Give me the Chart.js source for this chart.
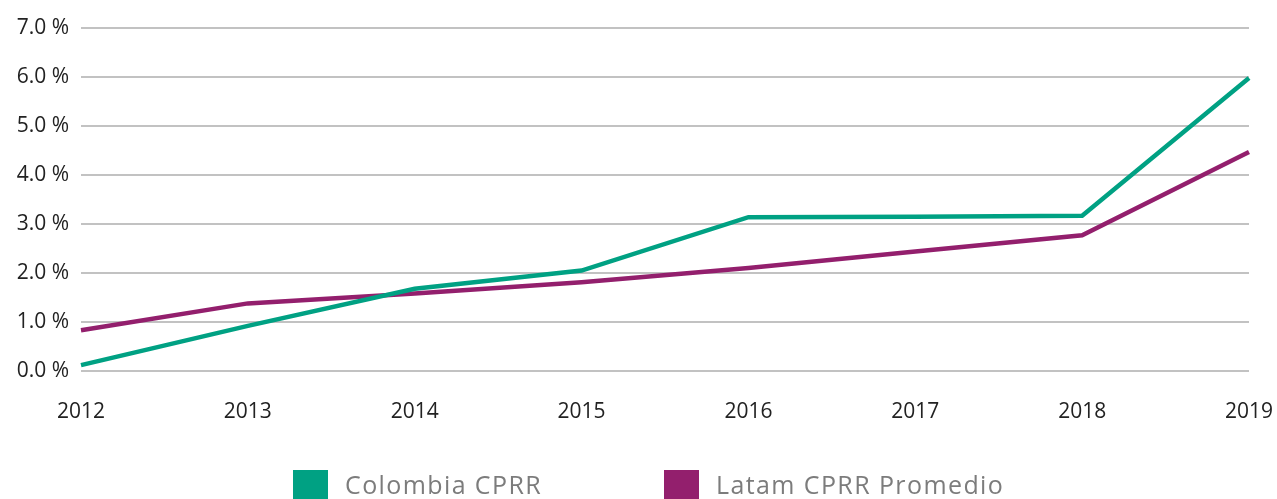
<!DOCTYPE html>
<html>
<head>
<meta charset="utf-8">
<script src="https://cdn.jsdelivr.net/npm/chart.js@4"></script>
<style>
  html, body { margin: 0; padding: 0; background: #fff; }
  #wrap { position: relative; width: 1277px; height: 499px; overflow: hidden; }
  #legend { position: absolute; left: 293px; top: 470px; display: flex; }
  .item { display: flex; align-items: center; width: 371px; }
  .swatch { width: 35px; height: 29px; margin-right: 17px; }
  .label { font-family: "Open Sans", sans-serif; font-size: 25px; letter-spacing: 1.4px; color: #7c7c7c; line-height: 29px; }
</style>
</head>
<body>
<div id="wrap">
  <canvas id="chart" width="1277" height="499"></canvas>
  <div id="legend"></div>
</div>
<script>
const years = ['2012', '2013', '2014', '2015', '2016', '2017', '2018', '2019'];
const colombia = [0.12, 0.92, 1.68, 2.05, 3.14, 3.15, 3.17, 5.98];
const latam = [0.83, 1.38, 1.58, 1.81, 2.1, 2.44, 2.77, 4.47];
const seriesNames = ['Colombia CPRR', 'Latam CPRR Promedio'];
const seriesColors = ['#00a183', '#931f6d'];

// legend lives in the page, built from the chart's own legend items
const htmlLegend = {
    id: 'htmlLegend',
    afterUpdate(chart) {
        const box = document.getElementById('legend');
        box.innerHTML = '';
        chart.legend.legendItems.forEach(item => {
            const el = document.createElement('div');
            el.className = 'item';
            const sw = document.createElement('span');
            sw.className = 'swatch';
            sw.style.background = item.strokeStyle;
            const txt = document.createElement('span');
            txt.className = 'label';
            txt.textContent = item.text;
            el.appendChild(sw);
            el.appendChild(txt);
            box.appendChild(el);
        });
    }
};

new Chart(document.getElementById('chart'), {
    type: 'line',
    data: {
        labels: years,
        datasets: [colombia, latam].map((values, i) => ({
            label: seriesNames[i],
            data: values,
            borderColor: seriesColors[i],
            backgroundColor: seriesColors[i],
            borderWidth: 4.5,
            pointRadius: 0,
            tension: 0,
            fill: false
        }))
    },
    options: {
        responsive: false,
        animation: false,
        layout: { padding: { top: 28, right: 28, left: 0, bottom: 78 } },
        plugins: {
            legend: { display: false },
            tooltip: { enabled: false }
        },
        scales: {
            y: {
                min: 0,
                max: 7,
                ticks: {
                    stepSize: 1,
                    padding: 12,
                    color: '#222',
                    font: { family: 'Open Sans', size: 21 },
                    callback: v => v.toFixed(1) + ' %'
                },
                grid: { color: '#c2c2c2', lineWidth: 2, drawTicks: false },
                border: { display: false },
                afterFit(scale) { scale.width = 81; }
            },
            x: {
                offset: false,
                ticks: {
                    padding: 28,
                    color: '#222',
                    maxRotation: 0,
                    autoSkip: false,
                    font: { family: 'Open Sans', size: 21 }
                },
                grid: { display: false, drawTicks: false },
                border: { display: false },
                afterFit(scale) {
                    scale.height = 50;
                    scale.paddingLeft = 0;
                    scale.paddingRight = 0;
                }
            }
        }
    },
    plugins: [htmlLegend]
});
</script>
</body>
</html>
